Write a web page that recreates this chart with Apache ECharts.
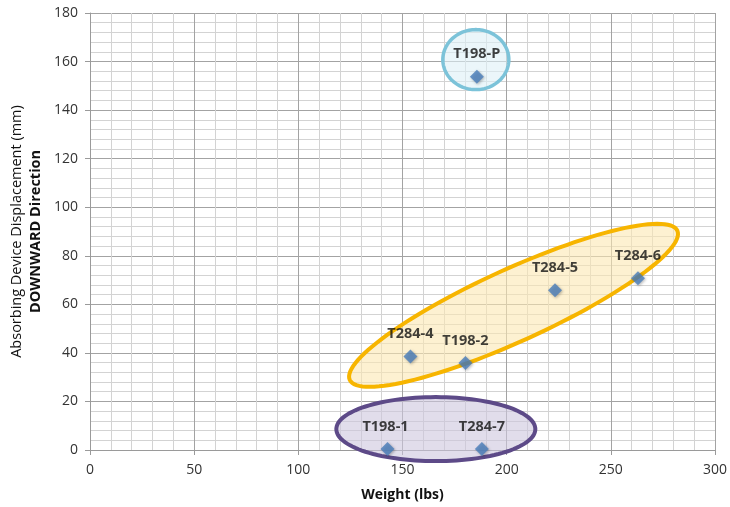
<!DOCTYPE html>
<html><head><meta charset="utf-8">
<script src="https://cdn.jsdelivr.net/npm/echarts@6/dist/echarts.min.js"></script>
<style>html,body{margin:0;padding:0;background:#fff}#c{width:730px;height:507px}</style>
</head><body><div id="c"></div>
<script>
// ---- data ----
const pointNames = ['T198-P', 'T284-4', 'T198-2', 'T284-5', 'T284-6', 'T198-1', 'T284-7'];
const weights = [185.7, 153.8, 180.2, 223.2, 263, 142.8, 188.1];
const displacements = [153.7, 38.5, 35.8, 65.8, 70.7, 0.4, 0.4];
const xTickValues = [0, 50, 100, 150, 200, 250, 300];
const yTickValues = [0, 20, 40, 60, 80, 100, 120, 140, 160, 180];

// ---- group annotations (centres in data units) ----
const groupCentresX = [185.2, 203.3, 166.0];
const groupCentresY = [160.8, 59.6, 8.6];
const groupStyles = [
  { rx: 33, ry: 30, rot: 0, stroke: '#7cc3d9', fill: 'rgba(222,240,246,0.6)', lw: 3.5 },
  { rx: 180, ry: 36, rot: 24.5, stroke: '#f7b500', fill: 'rgba(252,232,178,0.6)', lw: 4 },
  { rx: 99.5, ry: 32, rot: 0, stroke: '#5d4a88', fill: 'rgba(205,198,222,0.6)', lw: 4 }
];

const font = '"Open Sans", "Liberation Sans", sans-serif';
const chart = echarts.init(document.getElementById('c'));

const scatterData = pointNames.map((n, i) => ({
  name: n,
  value: [weights[i], displacements[i]],
  label: n === 'T198-1' ? { offset: [-2, 0] } : {}
}));

chart.setOption({
  animation: false,
  grid: { left: 90, right: 12, top: 13, bottom: 56, containLabel: false },
  xAxis: {
    type: 'value', min: xTickValues[0], max: xTickValues[xTickValues.length - 1], interval: 50,
    name: 'Weight (lbs)', nameLocation: 'middle', nameGap: 38,
    nameTextStyle: { fontFamily: font, fontWeight: 'bold', fontSize: 14, color: '#111' },
    axisLine: { show: true, onZero: false, lineStyle: { color: '#9a9a9a', width: 1 } },
    axisTick: { show: true, length: 5, lineStyle: { color: '#9a9a9a' } },
    axisLabel: { fontFamily: font, fontSize: 14, color: '#333', margin: 13 },
    splitLine: { show: true, lineStyle: { color: '#a3a3a3', width: 1 } },
    minorTick: { show: false, splitNumber: 5 },
    minorSplitLine: { show: true, lineStyle: { color: '#d3d3d3', width: 1 } }
  },
  yAxis: {
    type: 'value', min: yTickValues[0], max: yTickValues[yTickValues.length - 1], interval: 20,
    name: '{a|Absorbing Device Displacement (mm)}\n{b|DOWNWARD Direction}',
    nameLocation: 'middle', nameRotate: 90, nameGap: 44,
    nameTextStyle: {
      fontFamily: font, color: '#111',
      rich: {
        a: { fontFamily: font, fontSize: 14.5, color: '#111', lineHeight: 19, align: 'center' },
        b: { fontFamily: font, fontSize: 14.5, fontWeight: 'bold', color: '#111', lineHeight: 19, align: 'center' }
      }
    },
    axisLine: { show: true, lineStyle: { color: '#9a9a9a', width: 1 } },
    axisTick: { show: true, length: 5, lineStyle: { color: '#9a9a9a' } },
    axisLabel: { fontFamily: font, fontSize: 14, color: '#333', margin: 12 },
    splitLine: { show: true, lineStyle: { color: '#a3a3a3', width: 1 } },
    minorTick: { show: false, splitNumber: 5 },
    minorSplitLine: { show: true, lineStyle: { color: '#d3d3d3', width: 1 } }
  },
  series: [
    {
      type: 'custom',
      z: 1,
      silent: true,
      clip: false,
      data: groupCentresX.map((x, i) => [x, groupCentresY[i]]),
      renderItem: function (params, api) {
        const s = groupStyles[params.dataIndex];
        const c = api.coord([api.value(0), api.value(1)]);
        const th = s.rot * Math.PI / 180;
        const pts = [];
        for (let k = 0; k < 120; k++) {
          const t = k / 120 * Math.PI * 2;
          const ex = s.rx * Math.cos(t), ey = s.ry * Math.sin(t);
          pts.push([c[0] + ex * Math.cos(th) + ey * Math.sin(th),
                    c[1] + ex * Math.sin(th) * -1 + ey * Math.cos(th)]);
        }
        return {
          type: 'polygon',
          shape: { points: pts },
          style: { fill: s.fill, stroke: s.stroke, lineWidth: s.lw }
        };
      }
    },
    {
      type: 'scatter',
      z: 3,
      symbol: 'diamond',
      symbolSize: 14,
      data: scatterData,
      itemStyle: {
        color: '#4a7ebb',
        shadowBlur: 3, shadowColor: 'rgba(0,0,0,0.35)', shadowOffsetX: 1, shadowOffsetY: 1
      },
      label: {
        show: true, position: 'top', distance: 8,
        formatter: '{b}',
        fontFamily: font, fontSize: 14.5, fontWeight: 'bold', color: '#111'
      }
    }
  ]
});
</script></body></html>
